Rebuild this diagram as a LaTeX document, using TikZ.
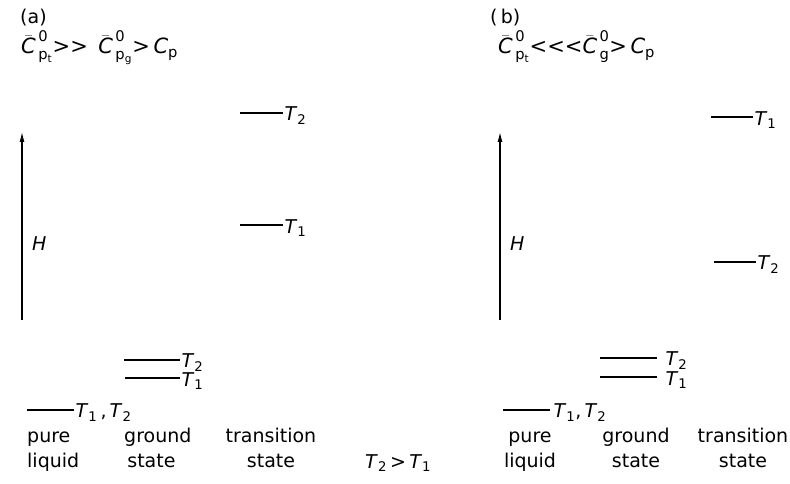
\documentclass[tikz,border=0pt]{standalone}
\usepackage{amsmath}
\usepackage{fontspec}
\setmainfont{DejaVu Sans}
\usetikzlibrary{arrows.meta}

\newcommand{\Tl}[1]{\textit{T}\textsubscript{#1}}
\newcommand{\Cb}{\bar{\text{\itshape C}}}

\begin{document}
\begin{tikzpicture}[x=1pt, y=-1pt,
  >={Latex[length=10pt,width=5pt]},
  font=\fontsize{19}{25}\selectfont,
  lvl/.style={line width=1.1pt},
  tl/.style={anchor=west, inner sep=1pt, yshift=-3pt},
  word/.style={anchor=base west, inner sep=0pt, align=left},
  mid/.style={anchor=base, inner sep=0pt, align=center},
  rel/.style={anchor=base west, inner sep=0pt, font=\fontsize{21}{25}\selectfont},
  axis/.style={->, line width=1.1pt},
]
  \useasboundingbox (0,0) rectangle (790,484);
  % panel (a)
  \node[word] (a-tag) at (20,24) {(a)};
  \node[rel] (a-rel) at (21,54) {$\Cb^{\,\text{0}}_{\,\text{p}_\text{t}}${>}{>}\enspace$\Cb^{\,\text{0}}_{\,\text{p}_\text{g}}$>\,\textit{C}\textsubscript{p}};
  \coordinate (a-lo) at (22,320);
  \coordinate (a-hi) at (22,132);
  \draw[axis] (a-lo) -- (a-hi);
  \node[word] (a-H) at (32,250) {\textit{H}};
  \draw[lvl] (240,113) -- (283,113) node[tl] (a-ts2) {\Tl2};
  \draw[lvl] (240,225) -- (283,225) node[tl] (a-ts1) {\Tl1};
  \draw[lvl] (124,360) -- (180,360) node[tl] (a-gs2) {\Tl2};
  \draw[lvl] (125,378) -- (180,378) node[tl] (a-gs1) {\Tl1};
  \draw[lvl] (27,410) -- (74,410) node[tl] (a-pl) {\Tl1\,,\,\Tl2};
  \node[word] (a-pure) at (27,467) {pure\\liquid};
  \node[word] (a-ground) at (124,467) {ground\\\,state};
  \node[mid] (a-trans) at (271,467) {transition\\state};
  \node[word] (temp) at (365,468) {\Tl2\,>\,\Tl1};
  % panel (b)
  \node[word] (b-tag) at (490,24) {(\,b)};
  \node[rel] (b-rel) at (498,54) {$\Cb^{\,\text{0}}_{\,\text{p}_\text{t}}${<}{<}{<}$\Cb^{\,\text{0}}_{\,\text{g}}$>\,\textit{C}\textsubscript{p}};
  \coordinate (b-lo) at (500,320);
  \coordinate (b-hi) at (500,132);
  \draw[axis] (b-lo) -- (b-hi);
  \node[word] (b-H) at (510,250) {\textit{H}};
  \draw[lvl] (711,117) -- (753,117) node[tl] (b-ts1) {\Tl1};
  \draw[lvl] (714,262) -- (756,262) node[tl] (b-ts2) {\Tl2};
  \draw[lvl] (600,358) -- (657,358) node[tl, xshift=7pt] (b-gs2) {\Tl2};
  \draw[lvl] (600,377) -- (657,377) node[tl, xshift=7pt] (b-gs1) {\Tl1};
  \draw[lvl] (503,410) -- (550,410) node[tl, xshift=2pt] (b-pl) {\Tl1,\,\Tl2};
  \node[mid] (b-pure) at (530,467) {pure\\liquid};
  \node[mid] (b-ground) at (636,467) {ground\\state};
  \node[mid] (b-trans) at (743,467) {transition\\state};
\end{tikzpicture}
\end{document}
